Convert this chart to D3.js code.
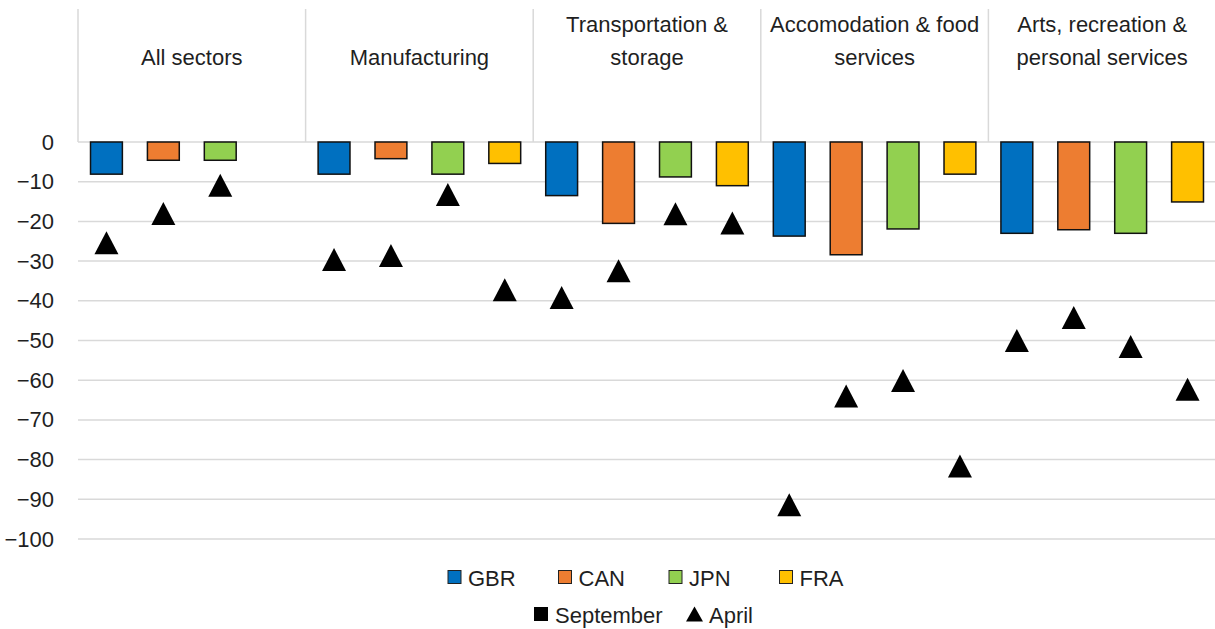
<!DOCTYPE html>
<html>
<head>
<meta charset="utf-8">
<script src="https://cdn.jsdelivr.net/npm/d3@7"></script>
<style>
  body { margin: 0; background: #fff; }
  text { font-family: "Liberation Sans", Arial, sans-serif; fill: #1f1f1f; }
</style>
</head>
<body>
<script>
// categories and series
var sectors = ["All sectors", "Manufacturing", "Transportation & storage", "Accomodation & food services", "Arts, recreation & personal services"];
var sectorLines = [["All sectors"], ["Manufacturing"], ["Transportation &", "storage"], ["Accomodation & food", "services"], ["Arts, recreation &", "personal services"]];
var countries = ["GBR", "CAN", "JPN", "FRA"];
var colors = ["#0070C0", "#ED7D31", "#92D050", "#FFC000"];

// September (bars), one row per sector, null = no data
var september = [
  [-8.1, -4.6, -4.6, null],
  [-8.1, -4.2, -8.1, -5.4],
  [-13.5, -20.5, -8.8, -11.0],
  [-23.7, -28.4, -21.9, -8.1],
  [-23.0, -22.1, -23.0, -15.1]
];
// April (triangles)
var april = [
  [-25.4, -18.0, -10.9, null],
  [-29.6, -28.6, -13.2, -37.2],
  [-39.2, -32.4, -18.1, -20.4],
  [-91.4, -64.0, -60.1, -81.6],
  [-50.0, -44.2, -51.5, -62.3]
];
var yTicks = [0, -10, -20, -30, -40, -50, -60, -70, -80, -90, -100];

var W = 1215, H = 629;
var left = 78, right = 1216, top0 = 142, bottom = 539, headTop = 9;
var fs = 22;

var svg = d3.select("body").append("svg").attr("width", W).attr("height", H);

var x0 = d3.scaleBand().domain(sectors).range([left, right]);
var x1 = d3.scaleBand().domain(countries).range([0, x0.bandwidth()]).paddingInner(0.44).paddingOuter(0.22);
var y = d3.scaleLinear().domain([-100, 0]).range([bottom, top0]);

// gridlines
svg.append("g").selectAll("line").data(yTicks).join("line")
  .attr("x1", left).attr("x2", right)
  .attr("y1", d => y(d)).attr("y2", d => y(d))
  .attr("stroke", "#d9d9d9").attr("stroke-width", 1.5);

// y axis labels
var yAxis = d3.axisLeft(y).tickValues(yTicks).tickSize(0).tickPadding(0);
var ga = svg.append("g").attr("transform", "translate(54,0)").call(yAxis);
ga.select(".domain").remove();
ga.selectAll("text").attr("font-size", fs).attr("font-family", "Liberation Sans, Arial, sans-serif").attr("fill", "#1f1f1f");

// header separators
svg.append("g").selectAll("line").data(sectors).join("line")
  .attr("x1", d => x0(d)).attr("x2", d => x0(d))
  .attr("y1", headTop).attr("y2", top0)
  .attr("stroke", "#d9d9d9").attr("stroke-width", 1.5);

// header labels
sectorLines.forEach(function (lines, i) {
  var cx = x0(sectors[i]) + x0.bandwidth() / 2;
  var t = svg.append("text").attr("text-anchor", "middle").attr("font-size", fs);
  var startY = lines.length === 1 ? 65 : 32;
  lines.forEach(function (l, j) {
    t.append("tspan").attr("x", cx).attr("y", startY + j * 33).text(l);
  });
});

// bars
var rows = [];
sectors.forEach(function (s, i) {
  countries.forEach(function (c, j) {
    rows.push({ s: s, c: c, j: j, sep: september[i][j], apr: april[i][j] });
  });
});

svg.append("g").selectAll("rect").data(rows.filter(d => d.sep != null)).join("rect")
  .attr("x", d => x0(d.s) + x1(d.c))
  .attr("y", y(0))
  .attr("width", x1.bandwidth())
  .attr("height", d => y(d.sep) - y(0))
  .attr("fill", d => colors[d.j])
  .attr("stroke", "#111").attr("stroke-width", 1.5);

// triangles (24 wide, 23 tall, centred on the value)
function triPath(w, h) {
  return "M0," + (-h / 2) + "L" + (w / 2) + "," + (h / 2) + "L" + (-w / 2) + "," + (h / 2) + "Z";
}
svg.append("g").selectAll("path").data(rows.filter(d => d.apr != null)).join("path")
  .attr("d", triPath(24, 23))
  .attr("transform", d => "translate(" + (x0(d.s) + x1(d.c) + x1.bandwidth() / 2) + "," + y(d.apr) + ")")
  .attr("fill", "#000");

// legend row 1
var lg = svg.append("g");
countries.forEach(function (c, j) {
  var gx = 448 + j * 110.5;
  lg.append("rect").attr("x", gx).attr("y", 570.5).attr("width", 13).attr("height", 13)
    .attr("fill", colors[j]).attr("stroke", "#222").attr("stroke-width", 1);
  lg.append("text").attr("x", gx + 20).attr("y", 585.5).attr("font-size", fs).text(c);
});
// legend row 2
lg.append("rect").attr("x", 534).attr("y", 607).attr("width", 14).attr("height", 14).attr("fill", "#000");
lg.append("text").attr("x", 555).attr("y", 622.5).attr("font-size", fs).text("September");
lg.append("path").attr("d", triPath(17, 15))
  .attr("transform", "translate(694.5,614)").attr("fill", "#000");
lg.append("text").attr("x", 709).attr("y", 622.5).attr("font-size", fs).text("April");
</script>
</body>
</html>
